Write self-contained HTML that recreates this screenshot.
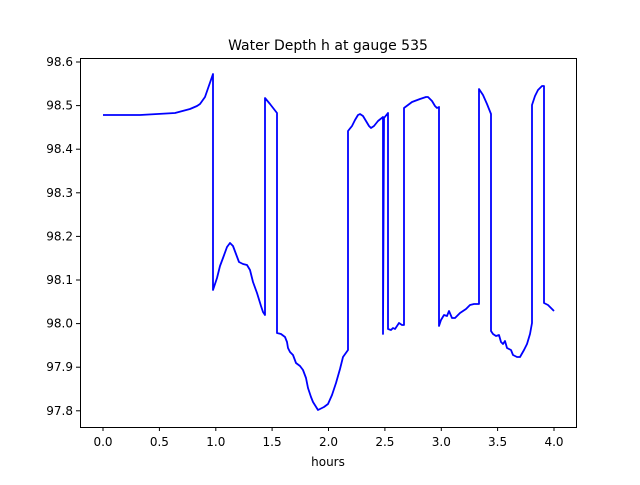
<!DOCTYPE html>
<html><head><style>body{margin:0;background:#fff}</style></head><body>
<svg width="640" height="480" xmlns="http://www.w3.org/2000/svg" font-family="DejaVu Sans, sans-serif">
<rect width="640" height="480" fill="#fff"/>
<text x="328" y="50" font-size="14" text-anchor="middle">Water Depth h at gauge 535</text>
<path fill="none" stroke="#0000ff" stroke-width="1.8" stroke-linejoin="round" d="M103,115 L140,115 L175,113 L190,109 L197,106 L200,104 L205,97 L213,74 L213,290 L217,278 L220,266 L223,258 L227,247 L230,243 L233,246 L236,254 L239,262 L243,264 L247,265 L250,270 L253,282 L257,293 L261,306 L263,312 L265,315 L265,98 L270,104 L277,113 L277,333 L281,334 L285,337 L287,342 L288,348 L290,352 L293,355 L296,363 L300,366 L303,370 L306,378 L308,388 L311,397 L313,402 L318,410 L324,407 L328,404 L332,395 L336,383 L340,369 L343,357 L348,350 L348,131 L352,126 L355,120 L358,115 L360,114 L363,116 L366,121 L369,126 L371,128 L374,126 L378,121 L383,117 L383,334 L384,118 L388,113 L388,329 L391,330 L393,328 L395,329 L397,326 L399,323 L402,325 L404,325 L404,108 L408,105 L412,102 L420,99 L426,97 L428,97 L432,101 L435,106 L437,108 L439,107 L439,326 L441,320 L444,315 L447,316 L449,311 L452,318 L455,318 L457,316 L460,313 L466,309 L470,305 L474,304 L479,304 L479,89 L483,95 L487,104 L491,114 L491,331 L493,334 L496,336 L499,335 L501,342 L503,344 L505,341 L507,348 L511,350 L513,355 L517,357 L520,357 L524,350 L527,344 L530,334 L532,323 L532,105 L535,96 L538,90 L542,86 L544,86 L544,303 L548,305 L551,308 L554,311"/>
<rect x="80.5" y="58.5" width="496" height="369" fill="none" stroke="#000" stroke-width="1"/>
<g stroke="#000" stroke-width="1">
<line x1="103" y1="427" x2="103" y2="431"/><line x1="159.4" y1="427" x2="159.4" y2="431"/><line x1="215.8" y1="427" x2="215.8" y2="431"/><line x1="272.1" y1="427" x2="272.1" y2="431"/><line x1="328.5" y1="427" x2="328.5" y2="431"/><line x1="384.9" y1="427" x2="384.9" y2="431"/><line x1="441.3" y1="427" x2="441.3" y2="431"/><line x1="497.6" y1="427" x2="497.6" y2="431"/><line x1="554" y1="427" x2="554" y2="431"/>
<line x1="76" y1="62" x2="80" y2="62"/><line x1="76" y1="105.6" x2="80" y2="105.6"/><line x1="76" y1="149.2" x2="80" y2="149.2"/><line x1="76" y1="192.8" x2="80" y2="192.8"/><line x1="76" y1="236.4" x2="80" y2="236.4"/><line x1="76" y1="280" x2="80" y2="280"/><line x1="76" y1="323.6" x2="80" y2="323.6"/><line x1="76" y1="367.2" x2="80" y2="367.2"/><line x1="76" y1="410.8" x2="80" y2="410.8"/>
</g>
<g font-size="12" text-anchor="middle">
<text x="103" y="446">0.0</text><text x="159.4" y="446">0.5</text><text x="215.8" y="446">1.0</text><text x="272.1" y="446">1.5</text><text x="328.5" y="446">2.0</text><text x="384.9" y="446">2.5</text><text x="441.3" y="446">3.0</text><text x="497.6" y="446">3.5</text><text x="554" y="446">4.0</text>
<text x="328" y="466">hours</text>
</g>
<g font-size="12" text-anchor="end">
<text x="73" y="66">98.6</text><text x="73" y="109.6">98.5</text><text x="73" y="153.2">98.4</text><text x="73" y="196.8">98.3</text><text x="73" y="240.4">98.2</text><text x="73" y="284">98.1</text><text x="73" y="327.6">98.0</text><text x="73" y="371.2">97.9</text><text x="73" y="414.8">97.8</text>
</g>
</svg>
</body></html>
